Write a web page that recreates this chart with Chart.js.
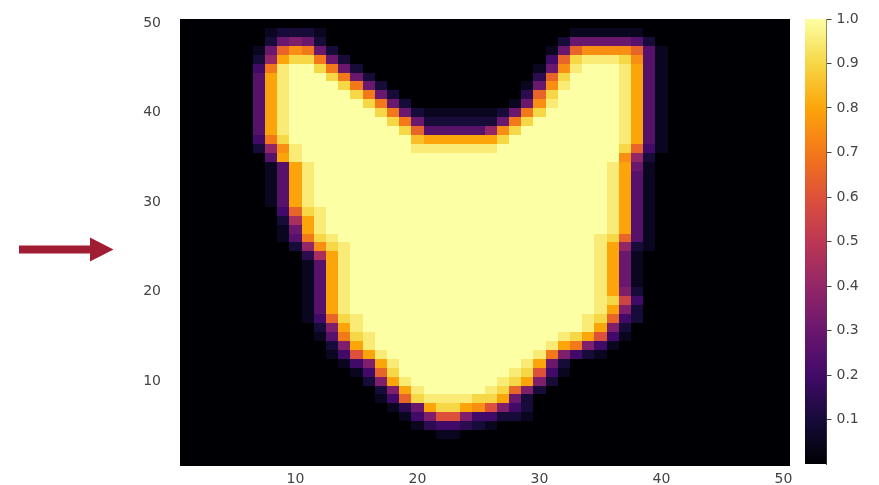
<!DOCTYPE html>
<html>
<head>
<meta charset="utf-8">
<script src="https://cdn.jsdelivr.net/npm/chart.js@4.4.0/dist/chart.umd.min.js"></script>
<style>
  html, body { margin: 0; padding: 0; background: #ffffff; }
  #wrap { position: relative; width: 879px; height: 485px; }
  #main { position: absolute; left: 0; top: 0; }
  #cbar { position: absolute; left: 790px; top: 0; }
</style>
</head>
<body>
<div id="wrap">
  <canvas id="main" width="879" height="485"></canvas>
  <canvas id="cbar" width="89" height="485"></canvas>
</div>
<script>
// Axis ticks
const X_TICKS = [10, 20, 30, 40, 50];
const Y_TICKS = [10, 20, 30, 40, 50];
const COLORBAR_TICKS = [0.1, 0.2, 0.3, 0.4, 0.5, 0.6, 0.7, 0.8, 0.9, 1.0];

// Cell intensity codes: position of the character in LEVELS divided by 20
// ('0' = 0.0, 'a' = 0.5, 'g' = 0.8, 'k' = 1.0).
const LEVELS = '0123456789abcdefghijk';

// One string per row, from y = 50 (top) down to y = 1; columns x = 1..50,
// written in blocks of ten.
const ROWS = [
  '0000000000 0000000000 0000000000 0000000000 0000000000', // 50
  '0000000122 2100000000 0000000000 0011111100 0000000000', // 49
  '0000000267 6200000000 0000000000 0266666520 0000000000', // 48
  '00000016df e620000000 0000000000 16dffffd51 0000000000', // 47
  '00000028gi ie62000000 0000000000 4dijjjif51 0000000000', // 46
  '0000004ejk kie6200000 0000000001 6fjkkkjg51 0000000000', // 45
  '0000005gjk kkie620000 0000000003 dikkkkjg51 0000000000', // 44
  '0000005gjk kkkie62000 0000000016 fjkkkkjg51 0000000000', // 43
  '0000005gjk kkkkie6200 000000003d ikkkkkjg51 0000000000', // 42
  '0000005gjk kkkkkie620 000000016f jkkkkkjg51 0000000000', // 41
  '0000005gjk kkkkkkie62 11111126ei kkkkkkjg51 0000000000', // 40
  '0000005gjk kkkkkkkie6 2222226eik kkkkkkjg51 0000000000', // 39
  '0000005gjk kkkkkkkkid 555558fikk kkkkkkjg51 0000000000', // 38
  '0000004eik kkkkkkkkkh ggggggikkk kkkkkkjg51 0000000000', // 37
  '00000028fj kkkkkkkkkj jjjjjjkkkk kkkkkkid41 0000000000', // 36
  '00000005gj kkkkkkkkkk kkkkkkkkkk kkkkkkf820 0000000000', // 35
  '000000015g jkkkkkkkkk kkkkkkkkkk kkkkkjg610 0000000000', // 34
  '000000015g jkkkkkkkkk kkkkkkkkkk kkkkkjg510 0000000000', // 33
  '000000015g jkkkkkkkkk kkkkkkkkkk kkkkkjg510 0000000000', // 32
  '000000015g jkkkkkkkkk kkkkkkkkkk kkkkkjg510 0000000000', // 31
  '000000015g jkkkkkkkkk kkkkkkkkkk kkkkkjg510 0000000000', // 30
  '000000004d ijkkkkkkkk kkkkkkkkkk kkkkkjg510 0000000000', // 29
  '0000000029 gjkkkkkkkk kkkkkkkkkk kkkkkjg510 0000000000', // 28
  '0000000016 gjkkkkkkkk kkkkkkkkkk kkkkkjg510 0000000000', // 27
  '0000000015 eijkkkkkkk kkkkkkkkkk kkkkjid510 0000000000', // 26
  '0000000002 8fijkkkkkk kkkkkkkkkk kkkkjg8210 0000000000', // 25
  '0000000000 39gjkkkkkk kkkkkkkkkk kkkkjg6100 0000000000', // 24
  '0000000000 15gjkkkkkk kkkkkkkkkk kkkkjg6100 0000000000', // 23
  '0000000000 15gjkkkkkk kkkkkkkkkk kkkkjg6100 0000000000', // 22
  '0000000000 15gjkkkkkk kkkkkkkkkk kkkkjg6100 0000000000', // 21
  '0000000000 15gjkkkkkk kkkkkkkkkk kkkkjg7200 0000000000', // 20
  '0000000000 15gjkkkkkk kkkkkkkkkk kkkkjib400 0000000000', // 19
  '0000000000 15gjkkkkkk kkkkkkkkkk kkkkjg7200 0000000000', // 18
  '0000000000 14dijkkkkk kkkkkkkkkk kkkjid4200 0000000000', // 17
  '0000000000 027gjkkkkk kkkkkkkkkk kkkjg72000 0000000000', // 16
  '0000000000 015eijkkkk kkkkkkkkkk kjigc41000 0000000000', // 15
  '0000000000 0027gjkkkk kkkkkkkkkk jge7410000 0000000000', // 14
  '0000000000 0014cgjkkk kkkkkkkkkj e742100000 0000000000', // 13
  '0000000000 000147gjkk kkkkkkkkjg 6200000000 0000000000', // 12
  '0000000000 000014dikk kkkkkkkjic 4100000000 0000000000', // 11
  '0000000000 0000027gjk kkkkkkjig7 2000000000 0000000000', // 10
  '0000000000 00000027gj kkkkkjid72 0000000000 0000000000', // 9
  '0000000000 00000014di jjjjiig620 0000000000 0000000000', // 8
  '0000000000 0000000136 giigfc7420 0000000000 0000000000', // 7
  '0000000000 0000000014 7cc7442210 0000000000 0000000000', // 6
  '0000000000 0000000001 3443210000 0000000000 0000000000', // 5
  '0000000000 0000000000 0110000000 0000000000 0000000000', // 4
  '0000000000 0000000000 0000000000 0000000000 0000000000', // 3
  '0000000000 0000000000 0000000000 0000000000 0000000000', // 2
  '0000000000 0000000000 0000000000 0000000000 0000000000'  // 1
];

// Inferno colour map anchors at 0.0, 0.1, ..., 1.0
const INFERNO = ['#000004', '#160b39', '#420a68', '#6a176e', '#932667', '#bc3754',
                 '#dd513a', '#f37819', '#fca50a', '#f6d746', '#fcffa4'];

function hexToRgb(h) {
  return [parseInt(h.slice(1, 3), 16), parseInt(h.slice(3, 5), 16), parseInt(h.slice(5, 7), 16)];
}
const INFERNO_RGB = INFERNO.map(hexToRgb);

function inferno(t) {
  const v = Math.max(0, Math.min(1, t)) * 10;
  const i = Math.min(9, Math.floor(v));
  const f = v - i;
  const a = INFERNO_RGB[i], b = INFERNO_RGB[i + 1];
  const c = a.map((ch, k) => Math.round(ch + (b[k] - ch) * f));
  return 'rgb(' + c[0] + ',' + c[1] + ',' + c[2] + ')';
}

// Expand the row strings into heatmap cells
const cells = [];
ROWS.forEach((row, r) => {
  const s = row.replace(/ /g, '');
  const yVal = ROWS.length - r;
  if (s.length !== 50) throw new Error('row y=' + yVal + ' has ' + s.length + ' cells');
  for (let c = 0; c < s.length; c++) {
    const code = LEVELS.indexOf(s[c]);
    if (code < 0) throw new Error('bad code in row y=' + yVal);
    cells.push({ x: c + 1, y: yVal, v: code / 20 });
  }
});

const FONT = { family: '"DejaVu Sans", sans-serif', size: 14 };
const TEXT_COLOR = '#444444';

// Draws every cell as a rectangle spanning value +/- 0.5 on both scales
const heatmapPlugin = {
  id: 'heatmapCells',
  beforeDatasetsDraw(chart) {
    const { ctx, scales } = chart;
    const xs = scales.x, ys = scales.y;
    const data = chart.data.datasets[0].data;
    ctx.save();
    for (const d of data) {
      const x0 = Math.round(xs.getPixelForValue(d.x - 0.5));
      const x1 = Math.round(xs.getPixelForValue(d.x + 0.5));
      const y0 = Math.round(ys.getPixelForValue(d.y + 0.5));
      const y1 = Math.round(ys.getPixelForValue(d.y - 0.5));
      ctx.fillStyle = inferno(d.v);
      ctx.fillRect(x0, y0, x1 - x0, y1 - y0);
    }
    ctx.restore();
  }
};

// Red pointer arrow on the left margin
const arrowPlugin = {
  id: 'pointerArrow',
  afterDraw(chart) {
    const ctx = chart.ctx;
    ctx.save();
    ctx.fillStyle = '#a11d33';
    ctx.beginPath();
    ctx.moveTo(19, 245.5);
    ctx.lineTo(90, 245.5);
    ctx.lineTo(90, 237.5);
    ctx.lineTo(113.5, 249.5);
    ctx.lineTo(90, 261.5);
    ctx.lineTo(90, 253.5);
    ctx.lineTo(19, 253.5);
    ctx.closePath();
    ctx.fill();
    ctx.restore();
  }
};

new Chart(document.getElementById('main'), {
  type: 'scatter',
  data: { datasets: [{ data: cells, pointRadius: 0, pointHoverRadius: 0, showLine: false }] },
  options: {
    responsive: false,
    animation: false,
    events: [],
    layout: { padding: { left: 0, right: 89.5, top: 18, bottom: 0 } },
    plugins: { legend: { display: false }, tooltip: { enabled: false } },
    scales: {
      x: {
        type: 'linear', min: 0.5, max: 50.5,
        afterBuildTicks: s => { s.ticks = X_TICKS.map(v => ({ value: v })); },
        afterFit: s => { s.height = 19; },
        grid: { display: false },
        border: { display: false },
        ticks: { font: FONT, color: TEXT_COLOR, padding: -3, maxRotation: 0 }
      },
      y: {
        type: 'linear', min: 0.5, max: 50.5,
        afterBuildTicks: s => { s.ticks = Y_TICKS.map(v => ({ value: v })); },
        afterFit: s => { s.width = 179.5; },
        grid: { display: false },
        border: { display: false },
        ticks: { font: FONT, color: TEXT_COLOR, padding: 10.5 }
      }
    }
  },
  plugins: [heatmapPlugin, arrowPlugin]
});

// Colour bar: one floating bar from 0 to 1 filled with the colour map
new Chart(document.getElementById('cbar'), {
  type: 'bar',
  data: {
    labels: [''],
    datasets: [{
      data: [[0, 1]],
      barPercentage: 1,
      categoryPercentage: 1,
      borderWidth: 0,
      backgroundColor(c) {
        const chart = c.chart;
        if (!chart.chartArea) return INFERNO[5];
        const ys = chart.scales.y;
        const g = chart.ctx.createLinearGradient(0, ys.getPixelForValue(0), 0, ys.getPixelForValue(1));
        INFERNO.forEach((col, k) => g.addColorStop(k / (INFERNO.length - 1), col));
        return g;
      }
    }]
  },
  options: {
    responsive: false,
    animation: false,
    events: [],
    layout: { padding: { left: 15, right: 0, top: 19, bottom: 21 } },
    plugins: { legend: { display: false }, tooltip: { enabled: false } },
    scales: {
      x: { display: false },
      y: {
        position: 'right', min: 0, max: 1,
        afterBuildTicks: s => { s.ticks = COLORBAR_TICKS.map(v => ({ value: v })); },
        afterFit: s => { s.width = 52.5; },
        grid: { drawOnChartArea: false, tickLength: 5, color: TEXT_COLOR },
        border: { display: true, color: TEXT_COLOR },
        ticks: { font: FONT, color: TEXT_COLOR, padding: 5, callback: v => v.toFixed(1) }
      }
    }
  }
});
</script>
</body>
</html>
